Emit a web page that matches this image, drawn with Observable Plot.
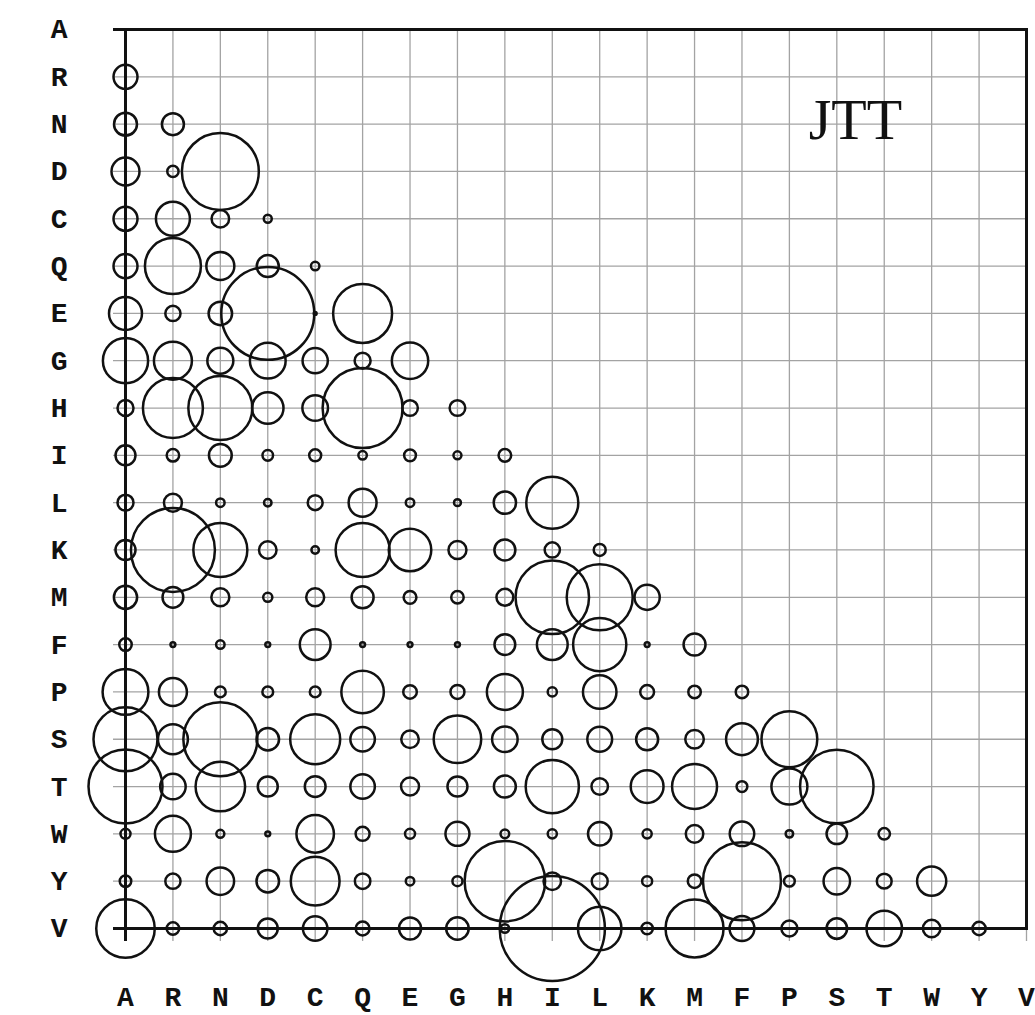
<!DOCTYPE html>
<html>
<head>
<meta charset="utf-8">
<script src="https://cdn.jsdelivr.net/npm/d3@7"></script>
<script src="https://cdn.jsdelivr.net/npm/@observablehq/plot@0.6"></script>
<style>
  html, body { margin: 0; padding: 0; background: #fff; }
  #chart svg { display: block; }
</style>
</head>
<body>
<div id="chart"></div>
<script>
// Amino acid order (rows top→bottom, columns left→right)
const aminoAcids = ["A","R","N","D","C","Q","E","G","H","I","L","K","M","F","P","S","T","W","Y","V"];
const modelName = "JTT";

// Lower-triangle values (row i, columns 0..i-1)
const rowR = [1.44];
const rowN = [1.32, 1.21];
const rowD = [1.96, 0.32, 14.8];
const rowC = [1.44, 2.89, 0.77, 0.16];
const rowQ = [1.44, 7.84, 1.96, 1.21, 0.18];
const rowE = [2.72, 0.58, 1.38, 21.6, 0.02, 8.7];
const rowG = [5.11, 3.61, 1.69, 3.2, 1.59, 0.64, 3.31];
const rowH = [0.64, 9.0, 10.24, 2.48, 1.64, 16.0, 0.61, 0.61];
const rowI = [1.0, 0.39, 1.3, 0.28, 0.36, 0.18, 0.35, 0.16, 0.4];
const rowL = [0.64, 0.81, 0.18, 0.14, 0.56, 1.96, 0.18, 0.12, 1.25, 6.76];
const rowK = [1.0, 17.64, 7.29, 0.77, 0.14, 7.29, 4.52, 0.81, 1.1, 0.58, 0.36];
const rowM = [1.35, 1.08, 0.81, 0.21, 0.81, 1.21, 0.41, 0.39, 0.71, 13.5, 10.89, 1.59];
const rowF = [0.39, 0.06, 0.18, 0.06, 2.37, 0.06, 0.06, 0.06, 1.08, 2.37, 7.08, 0.06, 1.21];
const rowP = [5.24, 1.96, 0.29, 0.29, 0.29, 4.52, 0.46, 0.49, 3.24, 0.21, 2.81, 0.48, 0.39, 0.39];
const rowS = [10.24, 2.25, 13.69, 1.27, 6.25, 1.5, 0.77, 5.64, 1.63, 1.0, 1.54, 1.21, 0.86, 2.53, 7.78];
const rowT = [13.69, 1.63, 6.13, 1.0, 1.08, 1.5, 0.81, 1.0, 1.21, 7.08, 0.68, 2.69, 5.06, 0.29, 3.24, 13.5];
const rowW = [0.25, 3.24, 0.16, 0.06, 3.52, 0.49, 0.25, 1.44, 0.19, 0.21, 1.38, 0.21, 0.77, 1.5, 0.14, 1.05, 0.33];
const rowY = [0.33, 0.58, 1.89, 1.27, 5.95, 0.6, 0.18, 0.25, 16.2, 0.77, 0.64, 0.25, 0.46, 15.21, 0.29, 1.76, 0.55, 2.13];
const rowV = [8.56, 0.39, 0.44, 1.0, 1.5, 0.48, 1.21, 1.27, 0.18, 27.67, 4.73, 0.33, 8.41, 1.54, 0.64, 1.05, 3.15, 0.77, 0.44];

const rows = [null, rowR, rowN, rowD, rowC, rowQ, rowE, rowG, rowH, rowI, rowL, rowK, rowM, rowF, rowP, rowS, rowT, rowW, rowY, rowV];

// Build long table for Plot
const cells = [];
rows.forEach((vals, i) => {
  if (!vals) return;
  vals.forEach((v, j) => cells.push({row: aminoAcids[i], col: aminoAcids[j], value: v}));
});

const first = aminoAcids[0];
const last = aminoAcids[aminoAcids.length - 1];
const gridColor = "#a3a3a3";
const labelFont = "Liberation Mono, DejaVu Sans Mono, monospace";

const chart = Plot.plot({
  width: 1035,
  height: 1015,
  marginLeft: 125,
  marginRight: 9,
  marginTop: 29,
  marginBottom: 87,
  style: {background: "#fff", color: "#111"},
  x: {type: "point", domain: aminoAcids, padding: 0, round: false, axis: null, label: null},
  y: {type: "point", domain: aminoAcids, padding: 0, round: false, axis: null, label: null},
  r: {type: "sqrt", domain: [0, 25], range: [0, 50]},
  marks: [
    // grid lines (with short extensions beyond the frame)
    Plot.ruleY(aminoAcids, {y: d => d, stroke: gridColor, strokeWidth: 1.3, insetLeft: -12}),
    Plot.ruleX(aminoAcids, {x: d => d, stroke: gridColor, strokeWidth: 1.3, insetBottom: -13}),
    // frame and axis extensions
    Plot.frame({stroke: "#111", strokeWidth: 3}),
    Plot.ruleY([first, last], {y: d => d, stroke: "#111", strokeWidth: 3, insetLeft: -12}),
    Plot.ruleX([first], {x: d => d, stroke: "#111", strokeWidth: 3, insetBottom: -13}),
    // bubbles
    Plot.dot(cells, {x: "col", y: "row", r: "value", stroke: "#111", strokeWidth: 2.5, fill: "none"}),
    // axis labels
    Plot.axisY({anchor: "left", tickSize: 0, tickPadding: 58, label: null, fontSize: 28, fontWeight: "bold", fontFamily: labelFont, fill: "#111"}),
    Plot.axisX({anchor: "bottom", tickSize: 0, tickPadding: 58, label: null, fontSize: 28, fontWeight: "bold", fontFamily: labelFont, fill: "#111"}),
    // model name
    Plot.text([modelName], {frameAnchor: "top-right", dx: -171, dy: 109, lineAnchor: "bottom", textAnchor: "middle",
      fontSize: 58, fontFamily: "Liberation Serif, Times New Roman, serif", fill: "#111"})
  ]
});
document.getElementById("chart").appendChild(chart);
</script>
</body>
</html>
